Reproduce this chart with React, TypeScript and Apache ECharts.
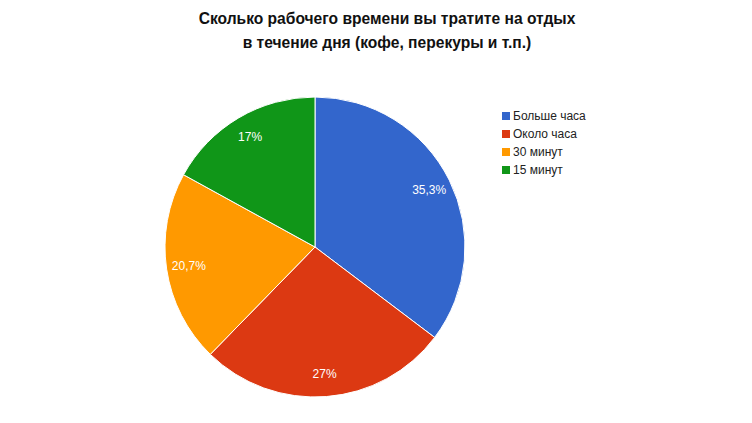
import React, { useEffect, useRef } from "react";
import * as echarts from "echarts";

const titleLines = [
  "Сколько рабочего времени вы тратите на отдых",
  "в течение дня (кофе, перекуры и т.п.)",
];
const categories = ["Больше часа", "Около часа", "30 минут", "15 минут"];
const values = [35.3, 27, 20.7, 17];
const colors = ["#3366cc", "#dc3912", "#ff9900", "#109618"];

const fmt = (v: number) => String(v).replace(".", ",") + "%";

export default function App() {
  const ref = useRef<HTMLDivElement>(null);
  useEffect(() => {
    if (!ref.current) return;
    const chart = echarts.init(ref.current, null, { renderer: "svg" });
    const data = categories.map((name, i) => ({
      name,
      value: values[i],
      itemStyle: { color: colors[i] },
    }));
    chart.setOption({
      animation: false,
      backgroundColor: "#ffffff",
      title: {
        text: titleLines.join("\n"),
        left: 382,
        top: 1,
        textAlign: "center",
        textStyle: {
          fontFamily: "Liberation Sans, Arial, sans-serif",
          fontSize: 15.6,
          fontWeight: "bold",
          color: "#111",
          lineHeight: 24,
        },
      },
      legend: {
        orient: "vertical",
        left: 495,
        top: 104,
        itemWidth: 10,
        itemHeight: 10,
        itemGap: 4,
        icon: "rect",
        data: categories,
        textStyle: {
          fontFamily: "Liberation Sans, Arial, sans-serif",
          fontSize: 12,
          color: "#222",
          lineHeight: 14,
          padding: [0, 0, 0, -3],
        },
      },
      series: [
        {
          type: "pie",
          center: [315, 247],
          radius: [0, 150],
          startAngle: 90,
          clockwise: true,
          label: { show: false },
          labelLine: { show: false },
          itemStyle: { borderColor: "#ffffff", borderWidth: 1 },
          emphasis: { disabled: true },
          data,
        },
        {
          type: "pie",
          center: [315, 247],
          radius: [100, 149],
          startAngle: 90,
          clockwise: true,
          silent: true,
          legendHoverLink: false,
          itemStyle: { color: "rgba(0,0,0,0)" },
          label: {
            show: true,
            position: "inside",
            color: "#ffffff",
            fontFamily: "Liberation Sans, Arial, sans-serif",
            fontSize: 12,
            formatter: (p: any) => fmt(p.value),
          },
          labelLine: { show: false },
          emphasis: { disabled: true },
          data: categories.map((name, i) => ({
            name,
            value: values[i],
            itemStyle: { color: "rgba(0,0,0,0)" },
          })),
        },
      ],
    });
    return () => chart.dispose();
  }, []);
  return (
    <div
      ref={ref}
      style={{ position: "fixed", left: 0, top: 0, width: 752, height: 423 }}
    />
  );
}
